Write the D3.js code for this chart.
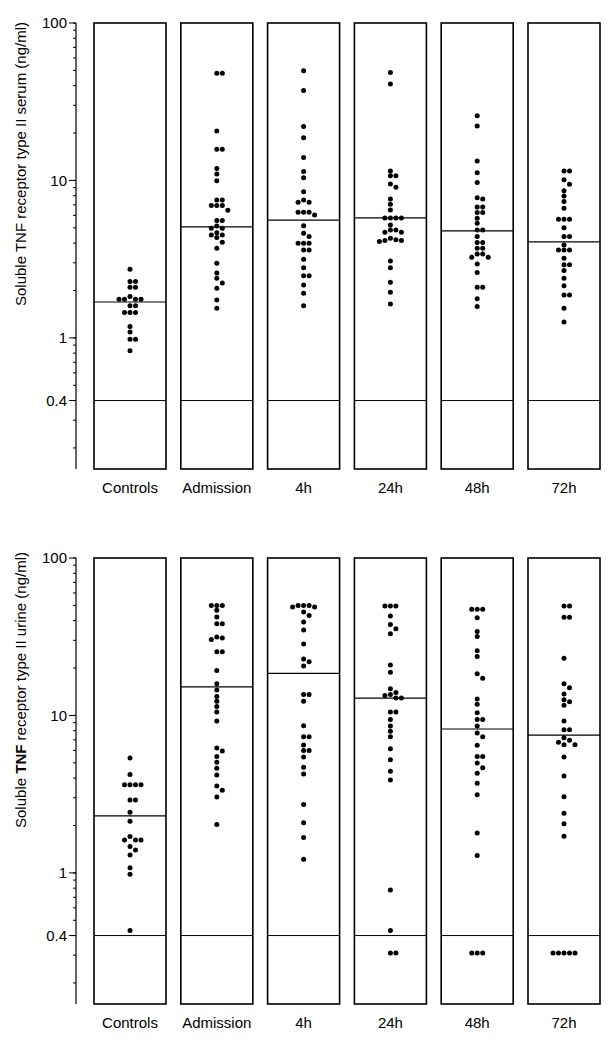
<!DOCTYPE html>
<html>
<head>
<meta charset="utf-8">
<script src="https://cdn.jsdelivr.net/npm/d3@7"></script>
<style>
  body { margin: 0; background: #fff; }
  svg { display: block; font-family: "Liberation Sans", Arial, Helvetica, sans-serif; }
</style>
</head>
<body>
<svg id="chart" width="611" height="1039"></svg>
<script>
// groups along the x axis
var categories = ["Controls", "Admission", "4h", "24h", "48h", "72h"];

// serum sTNF-RII (ng/ml)
var serumControls = [2.73, 2.28, 2.28, 2.10, 2.10, 1.83, 1.76, 1.76, 1.76, 1.76, 1.60, 1.60, 1.45, 1.45, 1.45, 1.18, 1.09, 0.98, 0.98, 0.83];
var serumAdmission = [48, 48, 20.6, 15.8, 15.8, 11.9, 11.0, 9.97, 7.52, 7.52, 6.92, 6.92, 6.92, 6.47, 5.56, 5.56, 5.14, 4.97, 4.97, 4.66, 4.51, 4.51, 4.34, 4.05, 3.71, 2.98, 2.58, 2.39, 2.23, 2.07, 1.74, 1.54];
var serum4h = [49.8, 37.2, 22.0, 18.7, 14.0, 11.4, 10.4, 8.49, 7.52, 7.27, 7.27, 6.28, 6.28, 6.28, 6.04, 5.16, 4.62, 4.40, 3.99, 3.99, 3.99, 3.62, 3.62, 3.16, 2.79, 2.48, 2.48, 2.17, 1.92, 1.60];
var serum24h = [48.4, 41.0, 11.5, 10.7, 10.7, 9.5, 9.05, 7.63, 7.06, 6.50, 5.78, 5.78, 5.78, 5.78, 5.22, 4.85, 4.85, 4.69, 4.69, 4.30, 4.20, 4.15, 4.15, 4.10, 3.08, 2.79, 2.26, 1.95, 1.64];
var serum48h = [25.8, 22.2, 13.3, 11.2, 9.69, 7.77, 7.63, 6.79, 6.79, 6.25, 6.25, 5.76, 5.35, 4.85, 4.85, 4.40, 4.03, 4.03, 3.71, 3.71, 3.41, 3.41, 3.25, 3.25, 2.95, 2.60, 2.10, 2.10, 1.77, 1.58];
var serum72h = [11.5, 11.5, 10.1, 9.46, 8.61, 7.97, 7.34, 6.66, 5.67, 5.67, 5.67, 5.01, 4.40, 4.40, 3.89, 3.62, 3.62, 3.62, 3.21, 2.91, 2.91, 2.68, 2.39, 2.14, 1.87, 1.87, 1.54, 1.26];
var serumMedians = [1.69, 5.07, 5.6, 5.78, 4.78, 4.07];

// urine sTNF-RII (ng/ml)
var urineControls = [5.36, 4.21, 3.63, 3.63, 3.63, 3.63, 2.90, 2.90, 2.43, 2.13, 1.70, 1.62, 1.62, 1.62, 1.47, 1.40, 1.30, 1.08, 0.98, 0.43];
var urineAdmission = [50, 50, 50, 46.6, 42.2, 38.2, 38.2, 31.5, 31, 30.4, 25.4, 25.4, 19.3, 15.9, 14.5, 13.2, 12.3, 11.4, 10.5, 9.22, 6.21, 5.94, 5.49, 5.05, 4.62, 4.19, 3.57, 3.35, 3.03, 2.03];
var urine4h = [50, 50, 50, 48.9, 48.9, 45.4, 43.2, 39.2, 34.9, 28.4, 22.8, 21.9, 20.6, 13.6, 13.6, 12.3, 8.61, 7.33, 7.33, 6.48, 6.00, 6.00, 5.44, 4.69, 4.25, 2.72, 2.08, 1.68, 1.22];
var urine24h = [49.6, 49.6, 49.6, 42.8, 37.8, 35.5, 33.0, 20.9, 18.8, 14.8, 14.0, 13.6, 13.4, 12.9, 12.9, 10.5, 10.5, 9.44, 8.56, 7.95, 7.31, 6.15, 5.23, 4.42, 3.89, 0.78, 0.43, 0.31, 0.31];
var urine48h = [47.2, 47.2, 47.2, 41.8, 34.1, 31.7, 25.8, 23.7, 18.4, 17.2, 12.7, 11.8, 10.4, 9.44, 9.44, 8.56, 7.75, 7.31, 6.46, 5.49, 5.49, 4.98, 4.65, 4.30, 3.71, 3.13, 1.79, 1.29, 0.31, 0.31, 0.31];
var urine72h = [49.5, 49.5, 42.0, 42.0, 23.1, 15.9, 15.0, 13.7, 12.6, 12.2, 11.6, 9.23, 8.12, 8.12, 7.22, 6.96, 6.76, 6.52, 6.52, 5.45, 4.12, 3.04, 2.39, 2.05, 1.71, 0.31, 0.31, 0.31, 0.31, 0.31];
var urineMedians = [2.3, 15.2, 18.5, 12.9, 8.2, 7.5];

var detectionLimit = 0.4;
var tickLabels = [100, 10, 1, 0.4];
var minorTicks = [0.2, 0.3, 0.4, 0.5, 0.6, 0.7, 0.8, 0.9, 1, 2, 3, 4, 5, 6, 7, 8, 9, 10, 20, 30, 40, 50, 60, 70, 80, 90, 100];

var svg = d3.select("#chart");
var x = d3.scalePoint().domain(categories).range([130, 564]);
var boxW = 72;

function drawPanel(opt) {
	var y = d3.scaleLog().domain([0.147, 100]).range([opt.bottom, opt.top]);
	var g = svg.append("g");

	// eje vertical
	g.append("line").attr("x1", 76).attr("x2", 76).attr("y1", opt.top).attr("y2", opt.bottom)
		.attr("stroke", "#000").attr("stroke-width", 1.2);
	g.selectAll("line.minor").data(minorTicks).enter().append("line")
		.attr("x1", 73).attr("x2", 76)
		.attr("y1", function(d) { return y(d); }).attr("y2", function(d) { return y(d); })
		.attr("stroke", "#000").attr("stroke-width", 1);
	g.selectAll("line.major").data(tickLabels).enter().append("line")
		.attr("x1", 69).attr("x2", 76)
		.attr("y1", function(d) { return y(d); }).attr("y2", function(d) { return y(d); })
		.attr("stroke", "#000").attr("stroke-width", 1);
	g.selectAll("text.tick").data(tickLabels).enter().append("text")
		.attr("x", 67).attr("y", function(d) { return y(d); })
		.attr("dy", "0.36em").attr("text-anchor", "end")
		.attr("font-size", 15).text(function(d) { return d; });

	// titulo rotado
	var t = g.append("text")
		.attr("transform", "translate(26," + opt.titleY + ") rotate(-90)")
		.attr("text-anchor", "middle").attr("font-size", 15);
	t.append("tspan").text("Soluble ");
	t.append("tspan").attr("font-weight", opt.boldTNF ? "bold" : "normal").text("TNF");
	t.append("tspan").text(" receptor type II " + opt.fluid + " (ng/ml)");

	categories.forEach(function(cat, i) {
		var cx = x(cat);
		var box = g.append("g");
		box.append("rect").attr("x", cx - boxW / 2).attr("y", opt.top)
			.attr("width", boxW).attr("height", opt.bottom - opt.top)
			.attr("fill", "none").attr("stroke", "#000").attr("stroke-width", 1.6);
		box.append("line").attr("x1", cx - boxW / 2).attr("x2", cx + boxW / 2)
			.attr("y1", y(detectionLimit)).attr("y2", y(detectionLimit))
			.attr("stroke", "#000").attr("stroke-width", 1);
		box.append("line").attr("x1", cx - boxW / 2).attr("x2", cx + boxW / 2)
			.attr("y1", y(opt.medians[i])).attr("y2", y(opt.medians[i]))
			.attr("stroke", "#000").attr("stroke-width", 1.2);

		// puntos tipo beeswarm
		var placed = [];
		var order = [0, 1, -1, 2, -2, 3, -3];
		var pts = opt.groups[i].slice().sort(function(a, b) { return b - a; }).map(function(v) {
			var py = y(v), off = 0;
			for (var k = 0; k < order.length; k++) {
				var o = order[k];
				var hit = placed.some(function(p) { return p.o == o && Math.abs(p.y - py) < 4.8; });
				if (!hit) { off = o; break; }
			}
			placed.push({o: off, y: py});
			return {x: cx + off * 5.5, y: py};
		});
		box.selectAll("circle").data(pts).enter().append("circle")
			.attr("cx", function(d) { return d.x; }).attr("cy", function(d) { return d.y; })
			.attr("r", 2.5).attr("fill", "#000");

		g.append("text").attr("x", cx).attr("y", opt.bottom + 24)
			.attr("text-anchor", "middle").attr("font-size", 15).text(cat);
	});
}

drawPanel({
	top: 23, bottom: 469, titleY: 164, fluid: "serum", boldTNF: false,
	groups: [serumControls, serumAdmission, serum4h, serum24h, serum48h, serum72h],
	medians: serumMedians
});
drawPanel({
	top: 558, bottom: 1004, titleY: 690, fluid: "urine", boldTNF: true,
	groups: [urineControls, urineAdmission, urine4h, urine24h, urine48h, urine72h],
	medians: urineMedians
});
</script>
</body>
</html>
